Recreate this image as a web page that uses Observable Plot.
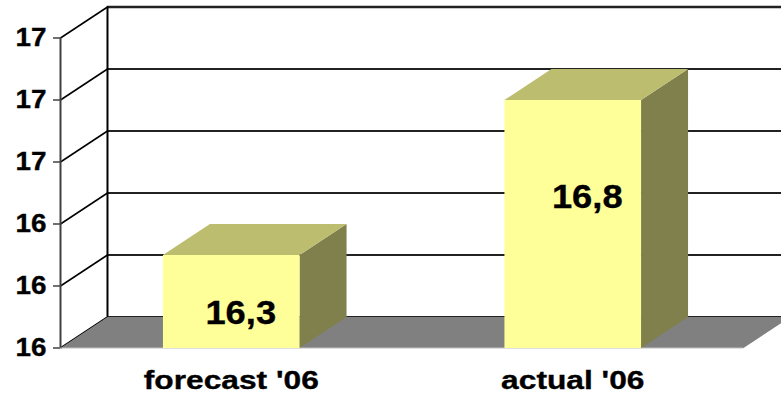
<!DOCTYPE html>
<html>
<head>
<meta charset="utf-8">
<script src="https://cdn.jsdelivr.net/npm/d3@7"></script>
<script src="https://cdn.jsdelivr.net/npm/@observablehq/plot@0.6"></script>
<style>
  html, body { margin: 0; padding: 0; background: #fff; overflow: hidden; }
  svg { display: block; }
</style>
</head>
<body>
<script>
// Budget comparison drawn as an oblique 3D column chart
const categories = ["forecast '06", "actual '06"];
const values = [16.3, 16.8];
const valueLabels = ["16,3", "16,8"];
const yTicks = [16, 16.2, 16.4, 16.6, 16.8, 17];

// Oblique projection: the depth axis shifts right (x units) and up (y units)
const depthX = 0.1376;
const depthY = 0.1;
const barHalf = 0.2;
const base = 16;
const floorEnd = categories.length;

const font = "'Liberation Sans', Arial, sans-serif";
const colors = { front: "#ffff99", top: "#bdbd70", side: "#80804d", floor: "#808080" };

// One closed polygon per face, tagged by bar so the line mark draws them separately
function face(id, corners) {
  return corners.map(([x, y]) => ({ id, x, y }));
}
const floor = face("floor", [
  [0, base], [floorEnd, base], [floorEnd + depthX, base + depthY], [depthX, base + depthY]
]);
const bars = values.map((v, i) => ({ v, l: i + 0.5 - barHalf, r: i + 0.5 + barHalf }));
const fronts = bars.flatMap((b, i) => face("f" + i, [[b.l, base], [b.r, base], [b.r, b.v], [b.l, b.v]]));
const tops = bars.flatMap((b, i) => face("t" + i, [
  [b.l, b.v], [b.r, b.v], [b.r + depthX, b.v + depthY], [b.l + depthX, b.v + depthY]
]));
const sides = bars.flatMap((b, i) => face("s" + i, [
  [b.r, base], [b.r + depthX, base + depthY], [b.r + depthX, b.v + depthY], [b.r, b.v]
]));
const polygon = (data, fill) => Plot.line(data, { x: "x", y: "y", z: "id", fill, stroke: null, curve: "linear-closed" });

// Widens a mark's glyphs horizontally without changing their height
const widen = factor => (index, scales, values, dimensions, context, next) => {
  const g = next(index, scales, values, dimensions, context);
  g.setAttribute("data-widen", factor);
  return g;
};

const chart = Plot.plot({
  width: 781,
  height: 395,
  marginLeft: 60,
  marginRight: 38,
  marginTop: 37.5,
  marginBottom: 47.5,
  style: { background: "#fff", overflow: "hidden" },
  x: { domain: [0, floorEnd], axis: null },
  y: { domain: [base, 17] },
  marks: [
    // Back wall gridlines and their slanted continuation on the side wall
    Plot.ruleY(yTicks, { y: d => d + depthY, x1: depthX, x2: floorEnd + 2 * depthX, stroke: "#222", strokeWidth: d => d === 17 ? 2.4 : 1.8 }),
    Plot.link(yTicks, { x1: 0, y1: d => d, x2: depthX, y2: d => d + depthY, stroke: "#000", strokeWidth: 1.5 }),
    Plot.ruleX([depthX], { y1: base + depthY, y2: 17 + depthY, stroke: "#000", strokeWidth: 2 }),
    // Floor with its pale front edge
    polygon(floor, colors.floor),
    Plot.ruleY([base], { x1: 0, x2: floorEnd, stroke: "#c0c0c0", strokeWidth: 1 }),
    // Left axis
    Plot.ruleX([0], { y1: base, y2: 17, stroke: "#404040", strokeWidth: 2 }),
    Plot.axisY({
      ticks: yTicks,
      tickFormat: d3.format(".0f"),
      tickSize: 7,
      tickPadding: 7,
      label: null,
      stroke: "#404040",
      strokeWidth: 1.5,
      fontSize: 26,
      fontWeight: "bold",
      fontFamily: font,
      fill: "#000",
      render: widen(1.07)
    }),
    // Bar faces
    polygon(sides, colors.side),
    polygon(tops, colors.top),
    polygon(fronts, colors.front),
    // Value labels sit on the bars
    Plot.text(values, {
      x: (d, i) => i + 0.5,
      y: d => base + 0.75 * (d - base) - 0.115,
      dx: 0,
      text: (d, i) => valueLabels[i],
      fontSize: 33,
      fontWeight: "bold",
      fontFamily: font,
      fill: "#000",
      render: widen(1.1)
    }),
    // Category labels under the floor
    Plot.text(categories, {
      x: (d, i) => i + 0.5,
      y: base,
      dy: 33,
      text: d => d,
      fontSize: 26,
      fontWeight: "bold",
      fontFamily: font,
      fill: "#000",
      render: widen(1.22)
    })
  ]
});
document.body.appendChild(chart);

// Text lengths are only measurable once the chart is in the document
chart.querySelectorAll("[data-widen]").forEach(g => {
  const factor = +g.getAttribute("data-widen");
  g.querySelectorAll("text").forEach(t => {
    t.setAttribute("textLength", t.getComputedTextLength() * factor);
    t.setAttribute("lengthAdjust", "spacingAndGlyphs");
    t.style.stroke = "#000";
    t.style.strokeWidth = "0.35px";
  });
});
// Value labels drift further right of the bar centre as the bars get taller
chart.querySelectorAll("[data-widen='1.1'] text").forEach((t, i) => {
  t.setAttribute("dx", 9.5 + 10 * (values[i] - values[0]));
});
</script>
</body>
</html>
